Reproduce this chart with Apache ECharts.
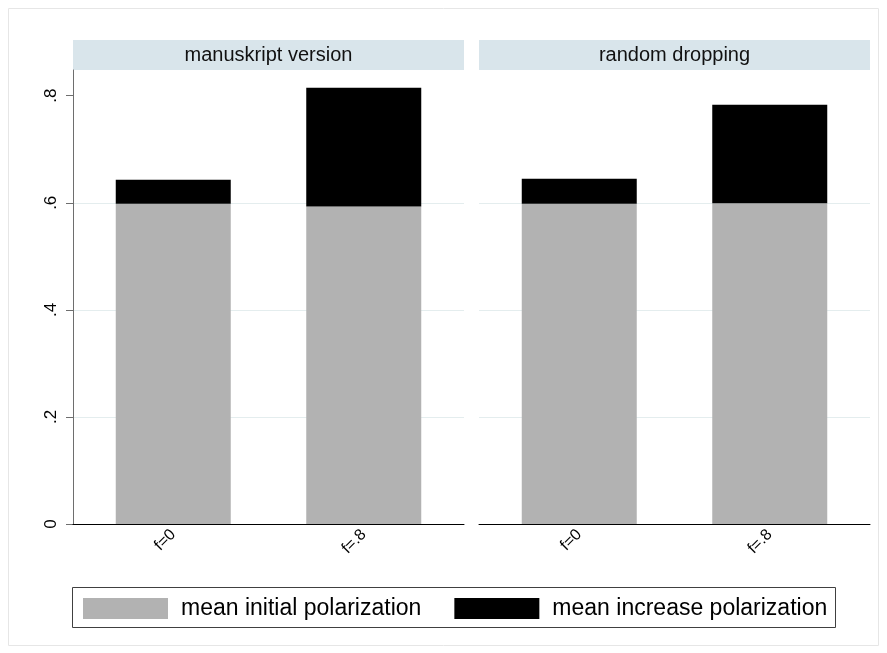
<!DOCTYPE html>
<html>
<head>
<meta charset="utf-8">
<script src="https://cdn.jsdelivr.net/npm/echarts@6/dist/echarts.min.js"></script>
<style>
  html, body { margin: 0; padding: 0; background: #ffffff; }
  #chart { width: 887px; height: 653px; }
</style>
</head>
<body>
<div id="chart"></div>
<script>
// Categories and panel titles
const categories = ['f=0', 'f=.8'];
const panelTitles = ['manuskript version', 'random dropping'];
const seriesNames = ['mean initial polarization', 'mean increase polarization'];

// Stacked bar values per panel
const initialManuskript = [0.598, 0.593];
const increaseManuskript = [0.045, 0.222];
const initialRandom = [0.598, 0.599];
const increaseRandom = [0.047, 0.184];

// Y axis ticks and their labels
const yTicks = [0, 0.2, 0.4, 0.6, 0.8];
const yTickLabels = ['0', '.2', '.4', '.6', '.8'];
const yMax = 0.848;

const FONT = '"Liberation Sans", Arial, sans-serif';
const GRAY = '#b2b2b2';
const BLACK = '#000000';
const GRID_COLOR = '#e4edee';
const AXIS_GRAY = '#6e6e6e';

const plotTop = 70;
const plotHeight = 454;
// panel frames: [left, width]; bar areas are inset slightly
const frames = [[73, 391], [479, 391]];
const barInset = 5;

const grids = [];
const xAxes = [];
const yAxes = [];
frames.forEach(function (f, p) {
  grids.push({ left: f[0], top: plotTop, width: f[1], height: plotHeight });
  grids.push({ left: f[0] + barInset, top: plotTop, width: f[1] - 2 * barInset, height: plotHeight });

  // frame axes: baseline and horizontal grid lines
  xAxes.push({
    gridIndex: 2 * p, type: 'value', min: 0, max: 1, z: 5,
    axisLine: { show: true, lineStyle: { color: BLACK, width: 1 } },
    axisTick: { show: false }, axisLabel: { show: false }, splitLine: { show: false }
  });
  yAxes.push({
    gridIndex: 2 * p, type: 'value', min: 0, max: yMax, interval: 0.2,
    axisLine: { show: p === 0, lineStyle: { color: AXIS_GRAY, width: 1 } },
    axisTick: { show: p === 0, customValues: yTicks, length: 7, lineStyle: { color: AXIS_GRAY } },
    axisLabel: {
      show: p === 0, customValues: yTicks, rotate: 90, margin: 13,
      fontSize: 17, fontFamily: FONT, color: '#000',
      formatter: function (v) {
        const i = yTicks.findIndex(function (t) { return Math.abs(t - v) < 1e-9; });
        return i >= 0 ? yTickLabels[i] : '';
      }
    },
    splitLine: { show: true, showMinLine: false, showMaxLine: false, lineStyle: { color: GRID_COLOR, width: 1 } }
  });

  // bar axes: categories
  xAxes.push({
    gridIndex: 2 * p + 1, type: 'category', data: categories,
    axisLine: { show: false }, axisTick: { show: false },
    axisLabel: { rotate: 45, margin: 8, fontSize: 16, fontFamily: FONT, color: '#000' }
  });
  yAxes.push({ gridIndex: 2 * p + 1, type: 'value', min: 0, max: yMax, show: false });
});

function barSeries(name, data, axisIdx, stack, color) {
  return {
    type: 'bar', name: name, data: data, stack: stack,
    xAxisIndex: axisIdx, yAxisIndex: axisIdx,
    barWidth: 115, itemStyle: { color: color }
  };
}

const series = [
  barSeries(seriesNames[0], initialManuskript, 1, 'manuskript', GRAY),
  barSeries(seriesNames[1], increaseManuskript, 1, 'manuskript', BLACK),
  barSeries(seriesNames[0], initialRandom, 3, 'random', GRAY),
  barSeries(seriesNames[1], increaseRandom, 3, 'random', BLACK)
];

const graphics = [
  { type: 'rect', shape: { x: 8.5, y: 8.5, width: 870, height: 637 },
    style: { fill: 'none', stroke: '#e6e6e6', lineWidth: 1 }, z: -10 },
  { type: 'rect', shape: { x: 72.5, y: 587.5, width: 763, height: 40 },
    style: { fill: '#ffffff', stroke: '#404040', lineWidth: 1 }, z: -5 }
];
frames.forEach(function (f, p) {
  graphics.push({ type: 'rect', shape: { x: f[0], y: 40, width: f[1], height: 30 },
    style: { fill: '#d9e5eb' }, z: -5 });
  graphics.push({ type: 'text', x: f[0] + f[1] / 2, y: 55,
    style: { text: panelTitles[p], fill: '#111', font: '20px ' + FONT, textAlign: 'center', textVerticalAlign: 'middle' } });
});

const chart = echarts.init(document.getElementById('chart'), null, { renderer: 'canvas' });
chart.setOption({
  animation: false,
  backgroundColor: '#ffffff',
  textStyle: { fontFamily: FONT },
  grid: grids,
  xAxis: xAxes,
  yAxis: yAxes,
  legend: {
    data: seriesNames, left: 83, top: 597, padding: 0,
    itemWidth: 85, itemHeight: 21, itemGap: 33, icon: 'rect',
    selectedMode: false,
    textStyle: { fontSize: 23, fontFamily: FONT, color: '#000', padding: [0, 0, 0, 8] }
  },
  graphic: graphics,
  series: series
});
</script>
</body>
</html>
